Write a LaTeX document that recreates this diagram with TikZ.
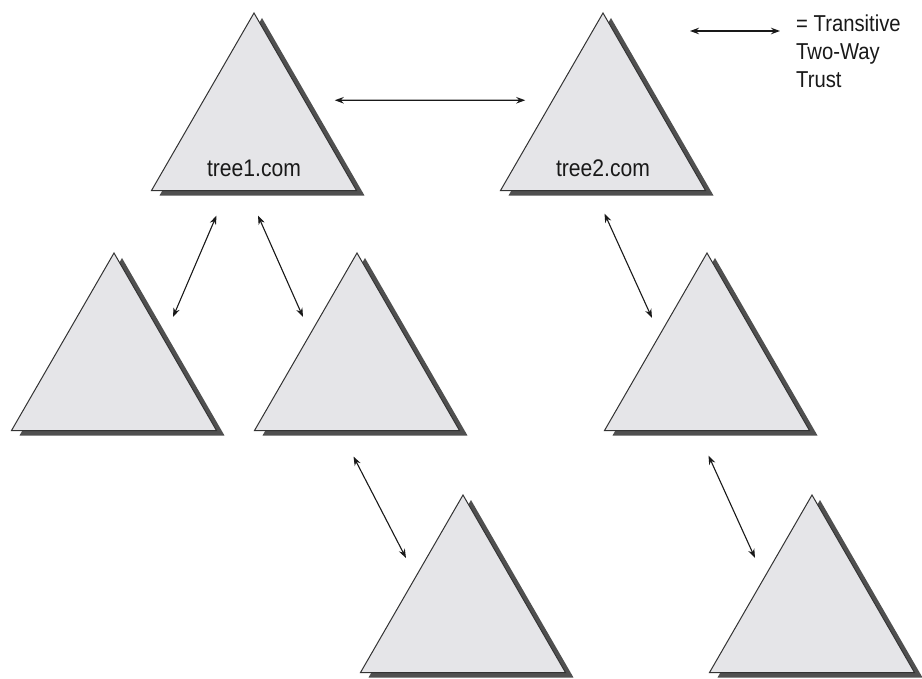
\documentclass[tikz,border=0pt]{standalone}
\usepackage{fontspec}
\setmainfont{Liberation Sans}[FakeStretch=0.88]
\usepackage{tikz}
\usetikzlibrary{positioning}
\usetikzlibrary{shapes.geometric,shadows,arrows.meta}
\definecolor{treefill}{RGB}{229,229,232}
\definecolor{treeshadow}{RGB}{80,80,80}

\begin{document}
\begin{tikzpicture}[x=1pt, y=-1pt,
  tree/.style = {regular polygon, regular polygon sides=3, minimum size=236.7pt,
    inner sep=0pt, outer sep=0pt, draw=black!80, line width=1pt, fill=treefill,
    drop shadow={shadow xshift=8pt, shadow yshift=-5pt, fill=treeshadow, opacity=1},
    anchor=corner 1},
  domainname/.style = {anchor=base, text=black!90, font=\fontsize{24}{28}\selectfont},
  trust/.style = {{Stealth[length=9pt,width=6.5pt]}-{Stealth[length=9pt,width=6.5pt]}, line width=1.1pt, draw=black!90}
]
\useasboundingbox (0,0) rectangle (922,679);
% forest roots
\node[tree] (t1) at (254,13) {};
\node[tree] (t2) at (603,13) {};
% child domains
\node[tree] (l1) at (114,253) {};
\node[tree] (m1) at (357,253) {};
\node[tree] (r1) at (707,253) {};
\node[tree] (b1) at (463,495) {};
\node[tree] (b2) at (812,495) {};
\node[domainname] (n1) at ([shift={(0,-14)}]t1.side 2) {tree1.com};
\node[domainname] (n2) at ([shift={(0,-14)}]t2.side 2) {tree2.com};
% trusts
\draw[trust] ([shift={(29.5,-1.5)}]t1.side 3) -- ([shift={(-26.5,-1.5)}]t2.side 1);
\draw[trust] ([shift={(-37.5,25)}]t1.side 2) -- ([shift={(59,64)}]l1.corner 1);
\draw[trust] ([shift={(4,25)}]t1.side 2) -- ([shift={(-54,64)}]m1.corner 1);
\draw[trust] ([shift={(1.5,23)}]t2.side 2) -- ([shift={(-55,65)}]r1.corner 1);
\draw[trust] ([shift={(-3.5,26)}]m1.side 2) -- ([shift={(-57,63)}]b1.corner 1);
\draw[trust] ([shift={(1.5,25)}]r1.side 2) -- ([shift={(-57,63)}]b2.corner 1);
% key
\coordinate (key-l) at (690,31);
\coordinate (key-r) at (780,31);
\draw[trust] (key-l) -- (key-r);
\node[anchor=north west, align=left, inner sep=0pt, text=black!90,
  font=\fontsize{23}{28}\selectfont] (key) at (796,15) {= Transitive\\Two-Way\\Trust};
\end{tikzpicture}
\end{document}
